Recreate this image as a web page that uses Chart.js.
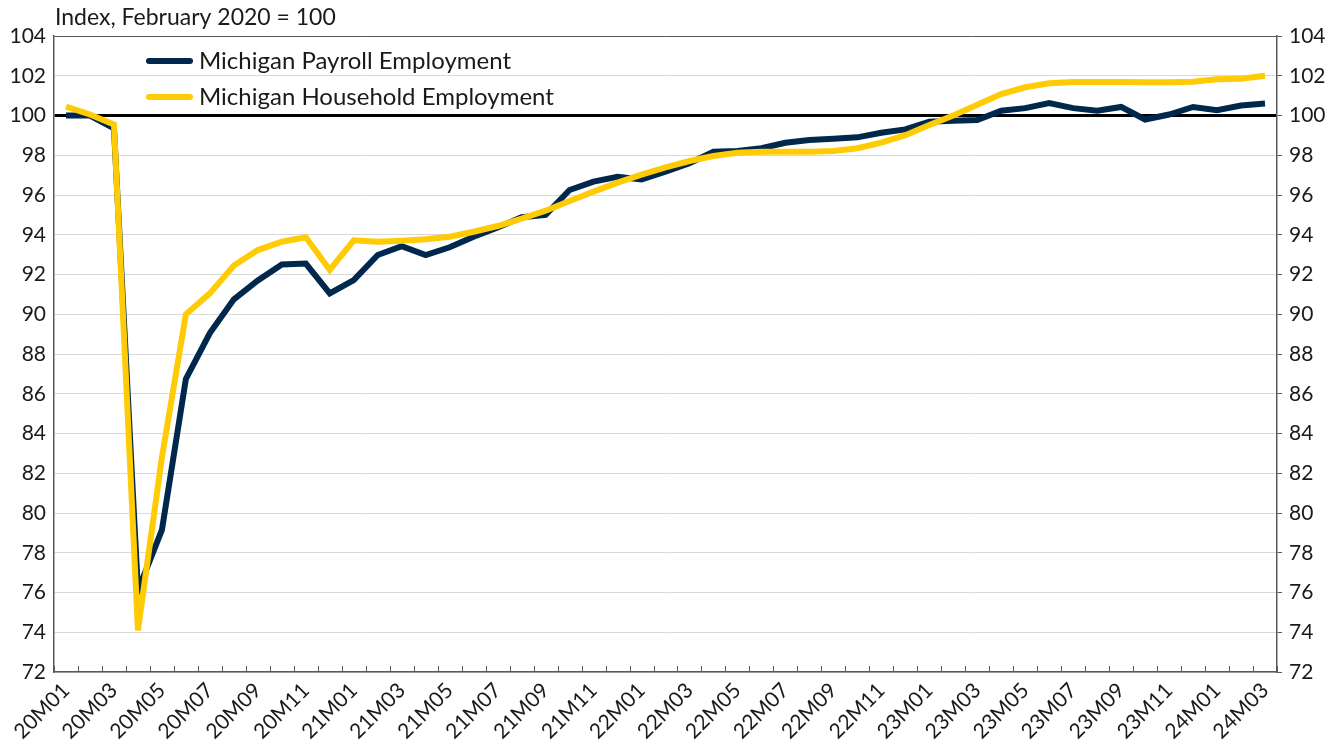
<!DOCTYPE html>
<html>
<head>
<meta charset="utf-8">
<script src="https://cdn.jsdelivr.net/npm/chart.js@4.4.1/dist/chart.umd.min.js"></script>
<style>
  html, body { margin: 0; padding: 0; background: #fff; }
  #wrap { width: 1341px; height: 743px; }
</style>
</head>
<body>
<div id="wrap"><canvas id="chart" width="1341" height="743"></canvas></div>
<script>
// ─── DATA ────────────────────────────────────────────────────────────────
var months = [
  '20M01','20M02','20M03','20M04','20M05','20M06','20M07','20M08','20M09','20M10','20M11','20M12',
  '21M01','21M02','21M03','21M04','21M05','21M06','21M07','21M08','21M09','21M10','21M11','21M12',
  '22M01','22M02','22M03','22M04','22M05','22M06','22M07','22M08','22M09','22M10','22M11','22M12',
  '23M01','23M02','23M03','23M04','23M05','23M06','23M07','23M08','23M09','23M10','23M11','23M12',
  '24M01','24M02','24M03'
];

var payroll = [
  100.0, 100.0, 99.35, 76.1, 79.15, 86.75, 89.05, 90.75, 91.7, 92.5, 92.55, 91.05,
  91.72, 92.98, 93.43, 92.98, 93.37, 93.9, 94.37, 94.88, 95.0, 96.25, 96.67, 96.92,
  96.78, 97.17, 97.6, 98.18, 98.21, 98.35, 98.63, 98.77, 98.83, 98.9, 99.13, 99.3,
  99.69, 99.74, 99.77, 100.24, 100.37, 100.62, 100.37, 100.24, 100.43, 99.8, 100.05, 100.43,
  100.27, 100.5, 100.6
];

var household = [
  100.45, 100.05, 99.55, 74.1, 82.8, 90.0, 91.05, 92.45, 93.23, 93.65, 93.87, 92.23,
  93.72, 93.65, 93.7, 93.77, 93.9, 94.15, 94.44, 94.81, 95.21, 95.7, 96.17, 96.62,
  97.02, 97.39, 97.71, 97.96, 98.13, 98.18, 98.18, 98.18, 98.21, 98.35, 98.63, 99.01,
  99.52, 100.0, 100.54, 101.08, 101.42, 101.62, 101.69, 101.69, 101.69, 101.67, 101.67, 101.7,
  101.82, 101.85, 102.0
];

var seriesNames = ['Michigan Payroll Employment', 'Michigan Household Employment'];
var yTitle = 'Index, February 2020 = 100';
var yMin = 72, yMax = 104, yStep = 2;

// ─── STYLE ───────────────────────────────────────────────────────────────
var NAVY = '#00274c';
var MAIZE = '#ffcb05';
var AXIS = '#595959';
var TXT = '#1a1a1a';
var FONT = 'Lato';
var TICK_SIZE = 21;

// inner tick marks on the x axis, legend and the axis title
var extras = {
  id: 'extras',
  afterDraw: function(chart) {
    var ctx = chart.ctx, xs = chart.scales.x, area = chart.chartArea;
    var step = xs.getPixelForValue(1) - xs.getPixelForValue(0);
    ctx.save();
    ctx.strokeStyle = AXIS;
    ctx.lineWidth = 1;
    for (var i = 0; i <= months.length; i++) {
      var x = Math.round(xs.getPixelForValue(i) - step / 2) + 0.5;
      ctx.beginPath();
      ctx.moveTo(x, area.bottom);
      ctx.lineTo(x, area.bottom - 6);
      ctx.stroke();
    }

    // axis title
    ctx.fillStyle = TXT;
    ctx.font = '23px ' + FONT;
    ctx.textAlign = 'left';
    ctx.textBaseline = 'middle';
    ctx.fillText(yTitle, area.left + 1, 18);

    // legend (payroll first, as in the source)
    ctx.font = '24px ' + FONT;
    chart.data.datasets.forEach(function(ds, k) {
      var y = 61 + k * 36;
      ctx.strokeStyle = ds.borderColor;
      ctx.lineWidth = 6;
      ctx.lineCap = 'round';
      ctx.beginPath();
      ctx.moveTo(149, y);
      ctx.lineTo(190, y);
      ctx.stroke();
      ctx.fillStyle = TXT;
      ctx.fillText(ds.label, 199, y);
    });
    ctx.restore();
  }
};

new Chart(document.getElementById('chart'), {
  type: 'line',
  data: {
    labels: months,
    datasets: [
      { label: seriesNames[0], data: payroll, borderColor: NAVY, backgroundColor: NAVY, borderWidth: 6, pointRadius: 0, tension: 0, order: 2, yAxisID: 'y' },
      { label: seriesNames[1], data: household, borderColor: MAIZE, backgroundColor: MAIZE, borderWidth: 6, pointRadius: 0, tension: 0, order: 1, yAxisID: 'y' }
    ]
  },
  options: {
    responsive: false,
    animation: false,
    layout: { padding: { top: 36, left: 0, right: 0, bottom: 0 } },
    plugins: { legend: { display: false }, tooltip: { enabled: false } },
    scales: {
      x: {
        offset: true,
        grid: { display: false, drawTicks: false },
        border: { display: true, color: AXIS, width: 1.5 },
        ticks: {
          autoSkip: false, maxRotation: 45, minRotation: 45, padding: 6,
          color: TXT, font: { family: FONT, size: TICK_SIZE },
          callback: function(v, i) { return i % 2 === 0 ? months[i] : ''; }
        },
        afterFit: function(s) { s.height = 71; }
      },
      y: {
        position: 'left', min: yMin, max: yMax,
        ticks: { stepSize: yStep, padding: 8, color: TXT, font: { family: FONT, size: TICK_SIZE } },
        grid: {
          drawTicks: false,
          color: function(c) { return c.tick.value === 100 ? '#000' : (c.tick.value === yMax ? AXIS : '#d9d9d9'); },
          lineWidth: function(c) { return c.tick.value === 100 ? 3 : 1; }
        },
        border: { color: AXIS, width: 1.5 },
        afterFit: function(s) { s.width = 54; }
      },
      y2: {
        position: 'right', min: yMin, max: yMax,
        ticks: { stepSize: yStep, padding: 7, color: TXT, font: { family: FONT, size: TICK_SIZE } },
        grid: { drawOnChartArea: false, tickLength: 5, color: AXIS },
        border: { color: AXIS, width: 1.5 },
        afterFit: function(s) { s.width = 64; }
      }
    }
  },
  plugins: [extras]
});
</script>
</body>
</html>
